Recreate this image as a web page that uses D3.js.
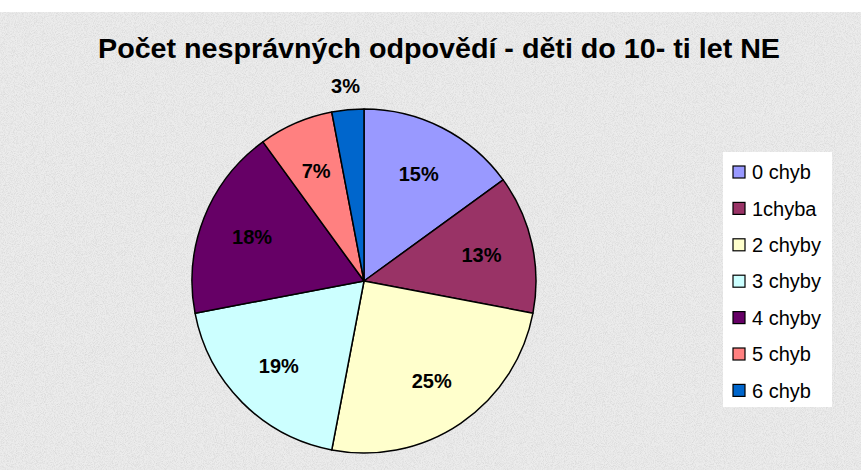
<!DOCTYPE html>
<html><head><meta charset="utf-8">
<script src="https://cdn.jsdelivr.net/npm/d3@7"></script>
<style>html,body{margin:0;padding:0;background:#fff;}svg{display:block;}</style>
</head><body>
<svg id="chart" width="861" height="470"></svg>
<script>
const title = "Počet nesprávných odpovědí - děti do 10- ti let NE";
const categories = ["0 chyb", "1chyba", "2 chyby", "3 chyby", "4 chyby", "5 chyb", "6 chyb"];
const values = [15, 13, 25, 19, 18, 7, 3];
const colors = ["#9999FF", "#993366", "#FFFFCC", "#CCFFFF", "#660066", "#FF8080", "#0066CC"];

const W = 861, H = 470;
const svg = d3.select("#chart");
const defs = svg.append("defs");
const f = defs.append("filter").attr("id", "noise").attr("x", 0).attr("y", 0).attr("width", "100%").attr("height", "100%");
f.append("feTurbulence").attr("type", "fractalNoise").attr("baseFrequency", 1.1).attr("numOctaves", 2).attr("seed", 3).attr("result", "t");
f.append("feColorMatrix").attr("type", "matrix")
  .attr("values", "0 0 0 0 0.5  0 0 0 0 0.5  0 0 0 0 0.5  1.4 0 0 0 -0.55");

// background
svg.append("rect").attr("x", 0).attr("y", 12).attr("width", W).attr("height", H - 12).attr("fill", "#ececec");
svg.append("rect").attr("x", 0).attr("y", 12).attr("width", W).attr("height", H - 12).attr("filter", "url(#noise)").attr("opacity", 0.6);

// title
svg.append("text").attr("x", 98).attr("y", 58)
  .attr("font-family", "Liberation Sans, Arial, sans-serif").attr("font-weight", "bold")
  .attr("font-size", 28).attr("textLength", 682).attr("lengthAdjust", "spacingAndGlyphs")
  .attr("fill", "#000").text(title);

const cx = 364, cy = 281, r = 172;
const data = categories.map((c, i) => ({ cat: c, value: values[i], color: colors[i] }));
const pie = d3.pie().value(d => d.value).sort(null);
const arcs = pie(data);
const arc = d3.arc().innerRadius(0).outerRadius(r);
const labelArc = d3.arc().innerRadius(r * 0.7).outerRadius(r * 0.7);
const outerArc = d3.arc().innerRadius(r + 24).outerRadius(r + 24);

const g = svg.append("g").attr("transform", `translate(${cx},${cy})`);
g.selectAll("path").data(arcs).join("path")
  .attr("d", arc).attr("fill", d => d.data.color)
  .attr("stroke", "#000").attr("stroke-width", 1.5).attr("stroke-linejoin", "round");

g.selectAll("text").data(arcs).join("text")
  .attr("transform", d => {
    const p = d.data.value < 5 ? outerArc.centroid(d) : labelArc.centroid(d);
    return `translate(${p[0]},${p[1]})`;
  })
  .attr("text-anchor", "middle").attr("dy", "0.36em")
  .attr("font-family", "Liberation Sans, Arial, sans-serif").attr("font-weight", "bold")
  .attr("font-size", 20).attr("fill", "#000")
  .text(d => d.data.value + "%");

// legend
const lg = svg.append("g").attr("transform", "translate(723,152)");
lg.append("rect").attr("width", 109).attr("height", 255).attr("fill", "#fff");
const items = lg.selectAll("g.item").data(data).join("g").attr("class", "item")
  .attr("transform", (d, i) => `translate(0,${20 + i * 36.4})`);
items.append("rect").attr("x", 10).attr("y", -6).attr("width", 12).attr("height", 12)
  .attr("fill", d => d.color).attr("stroke", "#000").attr("stroke-width", 1.2);
items.append("text").attr("x", 29).attr("y", 0).attr("dy", "0.36em")
  .attr("font-family", "Liberation Sans, Arial, sans-serif").attr("font-size", 20).attr("fill", "#000")
  .text(d => d.cat);
</script>
</body></html>
